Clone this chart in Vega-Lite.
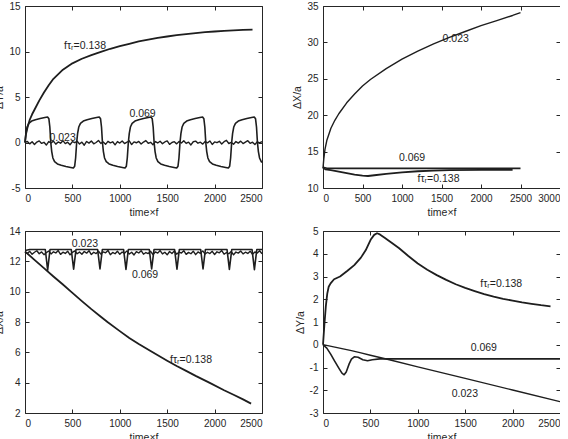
{
  "$schema": "https://vega.github.io/schema/vega-lite/v6.json",
  "background": "white",
  "padding": {"left": -6, "top": 0, "right": -2, "bottom": -2},
  "columns": 2,
  "spacing": {"row": 43, "column": 61},
  "bounds": "flush",
  "datasets": {
    "tl": [
      {"s": "0.138", "t": 0, "v": 0}, {"s": "0.138", "t": 10, "v": 0.9}, {"s": "0.138", "t": 25, "v": 1.6}, {"s": "0.138", "t": 50, "v": 2.5}, {"s": "0.138", "t": 75, "v": 3.1}, {"s": "0.138", "t": 100, "v": 3.6}, {"s": "0.138", "t": 150, "v": 4.6}, {"s": "0.138", "t": 200, "v": 5.5}, {"s": "0.138", "t": 250, "v": 6.3}, {"s": "0.138", "t": 300, "v": 7.0}, {"s": "0.138", "t": 400, "v": 8.0}, {"s": "0.138", "t": 500, "v": 8.7}, {"s": "0.138", "t": 600, "v": 9.2}, {"s": "0.138", "t": 700, "v": 9.6}, {"s": "0.138", "t": 800, "v": 9.95}, {"s": "0.138", "t": 900, "v": 10.3}, {"s": "0.138", "t": 1000, "v": 10.6}, {"s": "0.138", "t": 1100, "v": 10.85}, {"s": "0.138", "t": 1200, "v": 11.1}, {"s": "0.138", "t": 1300, "v": 11.3}, {"s": "0.138", "t": 1400, "v": 11.5}, {"s": "0.138", "t": 1500, "v": 11.65}, {"s": "0.138", "t": 1600, "v": 11.8}, {"s": "0.138", "t": 1700, "v": 11.92}, {"s": "0.138", "t": 1800, "v": 12.03}, {"s": "0.138", "t": 1900, "v": 12.12}, {"s": "0.138", "t": 2000, "v": 12.2}, {"s": "0.138", "t": 2100, "v": 12.27}, {"s": "0.138", "t": 2200, "v": 12.32}, {"s": "0.138", "t": 2300, "v": 12.37}, {"s": "0.138", "t": 2400, "v": 12.4},

      {"s": "0.069", "t": 0, "v": 0}, {"s": "0.069", "t": 10, "v": 1.0}, {"s": "0.069", "t": 22, "v": 1.7}, {"s": "0.069", "t": 40, "v": 2.1}, {"s": "0.069", "t": 70, "v": 2.35}, {"s": "0.069", "t": 110, "v": 2.5}, {"s": "0.069", "t": 160, "v": 2.63}, {"s": "0.069", "t": 210, "v": 2.74}, {"s": "0.069", "t": 238, "v": 2.8}, {"s": "0.069", "t": 252, "v": 2.6}, {"s": "0.069", "t": 262, "v": 1.7}, {"s": "0.069", "t": 272, "v": 0}, {"s": "0.069", "t": 282, "v": -1.0}, {"s": "0.069", "t": 294, "v": -1.7}, {"s": "0.069", "t": 312, "v": -2.1}, {"s": "0.069", "t": 342, "v": -2.35}, {"s": "0.069", "t": 382, "v": -2.5}, {"s": "0.069", "t": 432, "v": -2.63}, {"s": "0.069", "t": 482, "v": -2.74}, {"s": "0.069", "t": 510, "v": -2.8}, {"s": "0.069", "t": 524, "v": -2.6}, {"s": "0.069", "t": 534, "v": -1.7}, {"s": "0.069", "t": 545, "v": 0},
      {"s": "0.069", "t": 555, "v": 1.0}, {"s": "0.069", "t": 567, "v": 1.7}, {"s": "0.069", "t": 585, "v": 2.1}, {"s": "0.069", "t": 615, "v": 2.35}, {"s": "0.069", "t": 655, "v": 2.5}, {"s": "0.069", "t": 705, "v": 2.63}, {"s": "0.069", "t": 755, "v": 2.74}, {"s": "0.069", "t": 783, "v": 2.8}, {"s": "0.069", "t": 797, "v": 2.6}, {"s": "0.069", "t": 807, "v": 1.7}, {"s": "0.069", "t": 817, "v": 0}, {"s": "0.069", "t": 827, "v": -1.0}, {"s": "0.069", "t": 839, "v": -1.7}, {"s": "0.069", "t": 857, "v": -2.1}, {"s": "0.069", "t": 887, "v": -2.35}, {"s": "0.069", "t": 927, "v": -2.5}, {"s": "0.069", "t": 977, "v": -2.63}, {"s": "0.069", "t": 1027, "v": -2.74}, {"s": "0.069", "t": 1055, "v": -2.8}, {"s": "0.069", "t": 1069, "v": -2.6}, {"s": "0.069", "t": 1079, "v": -1.7}, {"s": "0.069", "t": 1090, "v": 0},
      {"s": "0.069", "t": 1100, "v": 1.0}, {"s": "0.069", "t": 1112, "v": 1.7}, {"s": "0.069", "t": 1130, "v": 2.1}, {"s": "0.069", "t": 1160, "v": 2.35}, {"s": "0.069", "t": 1200, "v": 2.5}, {"s": "0.069", "t": 1250, "v": 2.63}, {"s": "0.069", "t": 1300, "v": 2.74}, {"s": "0.069", "t": 1328, "v": 2.8}, {"s": "0.069", "t": 1342, "v": 2.6}, {"s": "0.069", "t": 1352, "v": 1.7}, {"s": "0.069", "t": 1362, "v": 0}, {"s": "0.069", "t": 1372, "v": -1.0}, {"s": "0.069", "t": 1384, "v": -1.7}, {"s": "0.069", "t": 1402, "v": -2.1}, {"s": "0.069", "t": 1432, "v": -2.35}, {"s": "0.069", "t": 1472, "v": -2.5}, {"s": "0.069", "t": 1522, "v": -2.63}, {"s": "0.069", "t": 1572, "v": -2.74}, {"s": "0.069", "t": 1600, "v": -2.8}, {"s": "0.069", "t": 1614, "v": -2.6}, {"s": "0.069", "t": 1624, "v": -1.7}, {"s": "0.069", "t": 1635, "v": 0},
      {"s": "0.069", "t": 1645, "v": 1.0}, {"s": "0.069", "t": 1657, "v": 1.7}, {"s": "0.069", "t": 1675, "v": 2.1}, {"s": "0.069", "t": 1705, "v": 2.35}, {"s": "0.069", "t": 1745, "v": 2.5}, {"s": "0.069", "t": 1795, "v": 2.63}, {"s": "0.069", "t": 1845, "v": 2.74}, {"s": "0.069", "t": 1873, "v": 2.8}, {"s": "0.069", "t": 1887, "v": 2.6}, {"s": "0.069", "t": 1897, "v": 1.7}, {"s": "0.069", "t": 1907, "v": 0}, {"s": "0.069", "t": 1917, "v": -1.0}, {"s": "0.069", "t": 1929, "v": -1.7}, {"s": "0.069", "t": 1947, "v": -2.1}, {"s": "0.069", "t": 1977, "v": -2.35}, {"s": "0.069", "t": 2017, "v": -2.5}, {"s": "0.069", "t": 2067, "v": -2.63}, {"s": "0.069", "t": 2117, "v": -2.74}, {"s": "0.069", "t": 2145, "v": -2.8}, {"s": "0.069", "t": 2159, "v": -2.6}, {"s": "0.069", "t": 2169, "v": -1.7}, {"s": "0.069", "t": 2180, "v": 0},
      {"s": "0.069", "t": 2190, "v": 1.0}, {"s": "0.069", "t": 2202, "v": 1.7}, {"s": "0.069", "t": 2220, "v": 2.1}, {"s": "0.069", "t": 2250, "v": 2.35}, {"s": "0.069", "t": 2290, "v": 2.5}, {"s": "0.069", "t": 2340, "v": 2.63}, {"s": "0.069", "t": 2390, "v": 2.74}, {"s": "0.069", "t": 2418, "v": 2.8}, {"s": "0.069", "t": 2432, "v": 2.6}, {"s": "0.069", "t": 2442, "v": 1.7}, {"s": "0.069", "t": 2452, "v": 0}, {"s": "0.069", "t": 2462, "v": -1.0}, {"s": "0.069", "t": 2474, "v": -1.7}, {"s": "0.069", "t": 2492, "v": -2.1}, {"s": "0.069", "t": 2500, "v": -2.18},

      {"s": "0.023", "t": 0, "v": 0.0}, {"s": "0.023", "t": 25, "v": 0.12}, {"s": "0.023", "t": 50, "v": -0.15}, {"s": "0.023", "t": 75, "v": 0.08}, {"s": "0.023", "t": 100, "v": -0.22}, {"s": "0.023", "t": 125, "v": 0.05}, {"s": "0.023", "t": 150, "v": 0.18}, {"s": "0.023", "t": 175, "v": -0.1}, {"s": "0.023", "t": 200, "v": 0.02}, {"s": "0.023", "t": 225, "v": -0.28}, {"s": "0.023", "t": 250, "v": 0.1}, {"s": "0.023", "t": 275, "v": -0.05}, {"s": "0.023", "t": 300, "v": 0.15}, {"s": "0.023", "t": 325, "v": -0.18}, {"s": "0.023", "t": 350, "v": 0.06}, {"s": "0.023", "t": 375, "v": -0.08}, {"s": "0.023", "t": 400, "v": 0.2}, {"s": "0.023", "t": 425, "v": -0.12}, {"s": "0.023", "t": 450, "v": 0.03}, {"s": "0.023", "t": 475, "v": -0.25}, {"s": "0.023", "t": 500, "v": 0.09}, {"s": "0.023", "t": 525, "v": -0.02}, {"s": "0.023", "t": 550, "v": 0.14}, {"s": "0.023", "t": 575, "v": -0.16}, {"s": "0.023", "t": 600, "v": 0.04}, {"s": "0.023", "t": 625, "v": -0.3}, {"s": "0.023", "t": 650, "v": 0.11}, {"s": "0.023", "t": 675, "v": -0.07}, {"s": "0.023", "t": 700, "v": 0.17}, {"s": "0.023", "t": 725, "v": -0.14}, {"s": "0.023", "t": 750, "v": 0.0}, {"s": "0.023", "t": 775, "v": 0.22}, {"s": "0.023", "t": 800, "v": -0.1}, {"s": "0.023", "t": 825, "v": 0.06}, {"s": "0.023", "t": 850, "v": -0.2}, {"s": "0.023", "t": 875, "v": 0.13}, {"s": "0.023", "t": 900, "v": -0.04}, {"s": "0.023", "t": 925, "v": 0.08}, {"s": "0.023", "t": 950, "v": -0.26}, {"s": "0.023", "t": 975, "v": 0.1}, {"s": "0.023", "t": 1000, "v": -0.06}, {"s": "0.023", "t": 1025, "v": 0.16}, {"s": "0.023", "t": 1050, "v": -0.12}, {"s": "0.023", "t": 1075, "v": 0.03}, {"s": "0.023", "t": 1100, "v": 0.19}, {"s": "0.023", "t": 1125, "v": -0.22}, {"s": "0.023", "t": 1150, "v": 0.07}, {"s": "0.023", "t": 1175, "v": -0.03}, {"s": "0.023", "t": 1200, "v": 0.12}, {"s": "0.023", "t": 1225, "v": -0.17}, {"s": "0.023", "t": 1250, "v": 0.05}, {"s": "0.023", "t": 1275, "v": 0.21}, {"s": "0.023", "t": 1300, "v": -0.09}, {"s": "0.023", "t": 1325, "v": 0.02}, {"s": "0.023", "t": 1350, "v": -0.24}, {"s": "0.023", "t": 1375, "v": 0.1}, {"s": "0.023", "t": 1400, "v": -0.05}, {"s": "0.023", "t": 1425, "v": 0.14}, {"s": "0.023", "t": 1450, "v": -0.13}, {"s": "0.023", "t": 1475, "v": 0.06}, {"s": "0.023", "t": 1500, "v": 0.18}, {"s": "0.023", "t": 1525, "v": -0.2}, {"s": "0.023", "t": 1550, "v": 0.0}, {"s": "0.023", "t": 1575, "v": 0.09}, {"s": "0.023", "t": 1600, "v": -0.15}, {"s": "0.023", "t": 1625, "v": 0.12}, {"s": "0.023", "t": 1650, "v": -0.06}, {"s": "0.023", "t": 1675, "v": 0.2}, {"s": "0.023", "t": 1700, "v": -0.1}, {"s": "0.023", "t": 1725, "v": 0.04}, {"s": "0.023", "t": 1750, "v": -0.27}, {"s": "0.023", "t": 1775, "v": 0.08}, {"s": "0.023", "t": 1800, "v": 0.15}, {"s": "0.023", "t": 1825, "v": -0.08}, {"s": "0.023", "t": 1850, "v": 0.03}, {"s": "0.023", "t": 1875, "v": -0.18}, {"s": "0.023", "t": 1900, "v": 0.11}, {"s": "0.023", "t": 1925, "v": -0.04}, {"s": "0.023", "t": 1950, "v": 0.17}, {"s": "0.023", "t": 1975, "v": -0.21}, {"s": "0.023", "t": 2000, "v": 0.06}, {"s": "0.023", "t": 2025, "v": -0.02}, {"s": "0.023", "t": 2050, "v": 0.13}, {"s": "0.023", "t": 2075, "v": -0.16}, {"s": "0.023", "t": 2100, "v": 0.09}, {"s": "0.023", "t": 2125, "v": 0.24}, {"s": "0.023", "t": 2150, "v": -0.11}, {"s": "0.023", "t": 2175, "v": 0.01}, {"s": "0.023", "t": 2200, "v": -0.19}, {"s": "0.023", "t": 2225, "v": 0.1}, {"s": "0.023", "t": 2250, "v": -0.07}, {"s": "0.023", "t": 2275, "v": 0.15}, {"s": "0.023", "t": 2300, "v": -0.12}, {"s": "0.023", "t": 2325, "v": 0.05}, {"s": "0.023", "t": 2350, "v": 0.2}, {"s": "0.023", "t": 2375, "v": -0.09}, {"s": "0.023", "t": 2400, "v": 0.03}, {"s": "0.023", "t": 2425, "v": -0.23}, {"s": "0.023", "t": 2450, "v": 0.08}, {"s": "0.023", "t": 2475, "v": -0.05}, {"s": "0.023", "t": 2500, "v": 0.1}
    ],
    "tl_lab": [
      {"t": 633, "v": 10.6, "text": "fτᵣ=0.138"},
      {"t": 1240, "v": 3.16, "text": "0.069"},
      {"t": 397, "v": 0.53, "text": "0.023"}
    ],
    "tr": [
      {"s": "0.023", "t": 0, "v": 12.7}, {"s": "0.023", "t": 10, "v": 14.0}, {"s": "0.023", "t": 25, "v": 15.3}, {"s": "0.023", "t": 50, "v": 16.6}, {"s": "0.023", "t": 100, "v": 18.2}, {"s": "0.023", "t": 150, "v": 19.3}, {"s": "0.023", "t": 200, "v": 20.2}, {"s": "0.023", "t": 300, "v": 21.7}, {"s": "0.023", "t": 400, "v": 22.9}, {"s": "0.023", "t": 500, "v": 24.0}, {"s": "0.023", "t": 600, "v": 24.9}, {"s": "0.023", "t": 800, "v": 26.4}, {"s": "0.023", "t": 1000, "v": 27.7}, {"s": "0.023", "t": 1200, "v": 28.8}, {"s": "0.023", "t": 1400, "v": 29.8}, {"s": "0.023", "t": 1600, "v": 30.7}, {"s": "0.023", "t": 1800, "v": 31.5}, {"s": "0.023", "t": 2000, "v": 32.3}, {"s": "0.023", "t": 2200, "v": 33.0}, {"s": "0.023", "t": 2400, "v": 33.7}, {"s": "0.023", "t": 2500, "v": 34.1},
      {"s": "0.069", "t": 0, "v": 12.85}, {"s": "0.069", "t": 50, "v": 12.72}, {"s": "0.069", "t": 200, "v": 12.7}, {"s": "0.069", "t": 1000, "v": 12.7}, {"s": "0.069", "t": 2500, "v": 12.7},
      {"s": "0.138", "t": 0, "v": 12.85}, {"s": "0.138", "t": 30, "v": 12.55}, {"s": "0.138", "t": 100, "v": 12.45}, {"s": "0.138", "t": 200, "v": 12.25}, {"s": "0.138", "t": 300, "v": 12.05}, {"s": "0.138", "t": 400, "v": 11.85}, {"s": "0.138", "t": 500, "v": 11.7}, {"s": "0.138", "t": 570, "v": 11.65}, {"s": "0.138", "t": 650, "v": 11.75}, {"s": "0.138", "t": 800, "v": 11.95}, {"s": "0.138", "t": 1000, "v": 12.15}, {"s": "0.138", "t": 1200, "v": 12.3}, {"s": "0.138", "t": 1400, "v": 12.4}, {"s": "0.138", "t": 1600, "v": 12.45}, {"s": "0.138", "t": 2000, "v": 12.5}, {"s": "0.138", "t": 2400, "v": 12.5}
    ],
    "tr_lab": [
      {"t": 1680, "v": 30.4, "text": "0.023"},
      {"t": 1127, "v": 14.07, "text": "0.069"},
      {"t": 1462, "v": 11.2, "text": "fτᵣ=0.138"}
    ],
    "bl": [
      {"s": "0.138", "t": 0, "v": 12.65}, {"s": "0.138", "t": 100, "v": 12.1}, {"s": "0.138", "t": 200, "v": 11.55}, {"s": "0.138", "t": 300, "v": 11.0}, {"s": "0.138", "t": 400, "v": 10.47}, {"s": "0.138", "t": 485, "v": 10.0}, {"s": "0.138", "t": 600, "v": 9.38}, {"s": "0.138", "t": 700, "v": 8.85}, {"s": "0.138", "t": 800, "v": 8.35}, {"s": "0.138", "t": 870, "v": 8.0}, {"s": "0.138", "t": 1000, "v": 7.4}, {"s": "0.138", "t": 1100, "v": 6.95}, {"s": "0.138", "t": 1200, "v": 6.55}, {"s": "0.138", "t": 1347, "v": 6.0}, {"s": "0.138", "t": 1500, "v": 5.45}, {"s": "0.138", "t": 1600, "v": 5.1}, {"s": "0.138", "t": 1700, "v": 4.78}, {"s": "0.138", "t": 1800, "v": 4.45}, {"s": "0.138", "t": 1944, "v": 4.0}, {"s": "0.138", "t": 2100, "v": 3.5}, {"s": "0.138", "t": 2200, "v": 3.2}, {"s": "0.138", "t": 2300, "v": 2.9}, {"s": "0.138", "t": 2385, "v": 2.62},

      {"s": "0.069", "t": 0, "v": 12.72}, {"s": "0.069", "t": 50, "v": 12.78}, {"s": "0.069", "t": 214, "v": 12.78}, {"s": "0.069", "t": 239, "v": 11.42}, {"s": "0.069", "t": 264, "v": 12.78}, {"s": "0.069", "t": 488, "v": 12.78}, {"s": "0.069", "t": 513, "v": 11.48}, {"s": "0.069", "t": 538, "v": 12.78}, {"s": "0.069", "t": 766, "v": 12.78}, {"s": "0.069", "t": 791, "v": 11.5}, {"s": "0.069", "t": 816, "v": 12.78}, {"s": "0.069", "t": 1040, "v": 12.78}, {"s": "0.069", "t": 1065, "v": 11.47}, {"s": "0.069", "t": 1090, "v": 12.78}, {"s": "0.069", "t": 1311, "v": 12.78}, {"s": "0.069", "t": 1336, "v": 11.5}, {"s": "0.069", "t": 1361, "v": 12.78}, {"s": "0.069", "t": 1578, "v": 12.78}, {"s": "0.069", "t": 1603, "v": 11.48}, {"s": "0.069", "t": 1628, "v": 12.78}, {"s": "0.069", "t": 1853, "v": 12.78}, {"s": "0.069", "t": 1878, "v": 11.5}, {"s": "0.069", "t": 1903, "v": 12.78}, {"s": "0.069", "t": 2131, "v": 12.78}, {"s": "0.069", "t": 2156, "v": 11.47}, {"s": "0.069", "t": 2181, "v": 12.78}, {"s": "0.069", "t": 2395, "v": 12.78}, {"s": "0.069", "t": 2420, "v": 11.45}, {"s": "0.069", "t": 2445, "v": 12.78}, {"s": "0.069", "t": 2500, "v": 12.78},

      {"s": "0.023", "t": 0, "v": 12.6}, {"s": "0.023", "t": 25, "v": 12.52}, {"s": "0.023", "t": 50, "v": 12.66}, {"s": "0.023", "t": 75, "v": 12.47}, {"s": "0.023", "t": 100, "v": 12.6}, {"s": "0.023", "t": 125, "v": 12.7}, {"s": "0.023", "t": 150, "v": 12.5}, {"s": "0.023", "t": 175, "v": 12.62}, {"s": "0.023", "t": 200, "v": 12.44}, {"s": "0.023", "t": 225, "v": 12.58}, {"s": "0.023", "t": 250, "v": 12.68}, {"s": "0.023", "t": 275, "v": 12.49}, {"s": "0.023", "t": 300, "v": 12.63}, {"s": "0.023", "t": 325, "v": 12.55}, {"s": "0.023", "t": 350, "v": 12.71}, {"s": "0.023", "t": 375, "v": 12.46}, {"s": "0.023", "t": 400, "v": 12.6}, {"s": "0.023", "t": 425, "v": 12.52}, {"s": "0.023", "t": 450, "v": 12.67}, {"s": "0.023", "t": 475, "v": 12.43}, {"s": "0.023", "t": 500, "v": 12.59}, {"s": "0.023", "t": 525, "v": 12.69}, {"s": "0.023", "t": 550, "v": 12.5}, {"s": "0.023", "t": 575, "v": 12.61}, {"s": "0.023", "t": 600, "v": 12.47}, {"s": "0.023", "t": 625, "v": 12.65}, {"s": "0.023", "t": 650, "v": 12.54}, {"s": "0.023", "t": 675, "v": 12.7}, {"s": "0.023", "t": 700, "v": 12.45}, {"s": "0.023", "t": 725, "v": 12.6}, {"s": "0.023", "t": 750, "v": 12.51}, {"s": "0.023", "t": 775, "v": 12.66}, {"s": "0.023", "t": 800, "v": 12.48}, {"s": "0.023", "t": 825, "v": 12.62}, {"s": "0.023", "t": 850, "v": 12.56}, {"s": "0.023", "t": 875, "v": 12.72}, {"s": "0.023", "t": 900, "v": 12.44}, {"s": "0.023", "t": 925, "v": 12.59}, {"s": "0.023", "t": 950, "v": 12.5}, {"s": "0.023", "t": 975, "v": 12.67}, {"s": "0.023", "t": 1000, "v": 12.46}, {"s": "0.023", "t": 1025, "v": 12.61}, {"s": "0.023", "t": 1050, "v": 12.53}, {"s": "0.023", "t": 1075, "v": 12.69}, {"s": "0.023", "t": 1100, "v": 12.48}, {"s": "0.023", "t": 1125, "v": 12.6}, {"s": "0.023", "t": 1150, "v": 12.42}, {"s": "0.023", "t": 1175, "v": 12.64}, {"s": "0.023", "t": 1200, "v": 12.55}, {"s": "0.023", "t": 1225, "v": 12.7}, {"s": "0.023", "t": 1250, "v": 12.47}, {"s": "0.023", "t": 1275, "v": 12.58}, {"s": "0.023", "t": 1300, "v": 12.51}, {"s": "0.023", "t": 1325, "v": 12.66}, {"s": "0.023", "t": 1350, "v": 12.45}, {"s": "0.023", "t": 1375, "v": 12.62}, {"s": "0.023", "t": 1400, "v": 12.54}, {"s": "0.023", "t": 1425, "v": 12.71}, {"s": "0.023", "t": 1450, "v": 12.49}, {"s": "0.023", "t": 1475, "v": 12.6}, {"s": "0.023", "t": 1500, "v": 12.43}, {"s": "0.023", "t": 1525, "v": 12.65}, {"s": "0.023", "t": 1550, "v": 12.52}, {"s": "0.023", "t": 1575, "v": 12.68}, {"s": "0.023", "t": 1600, "v": 12.47}, {"s": "0.023", "t": 1625, "v": 12.61}, {"s": "0.023", "t": 1650, "v": 12.55}, {"s": "0.023", "t": 1675, "v": 12.7}, {"s": "0.023", "t": 1700, "v": 12.46}, {"s": "0.023", "t": 1725, "v": 12.59}, {"s": "0.023", "t": 1750, "v": 12.5}, {"s": "0.023", "t": 1775, "v": 12.67}, {"s": "0.023", "t": 1800, "v": 12.44}, {"s": "0.023", "t": 1825, "v": 12.62}, {"s": "0.023", "t": 1850, "v": 12.53}, {"s": "0.023", "t": 1875, "v": 12.69}, {"s": "0.023", "t": 1900, "v": 12.48}, {"s": "0.023", "t": 1925, "v": 12.6}, {"s": "0.023", "t": 1950, "v": 12.51}, {"s": "0.023", "t": 1975, "v": 12.66}, {"s": "0.023", "t": 2000, "v": 12.45}, {"s": "0.023", "t": 2025, "v": 12.63}, {"s": "0.023", "t": 2050, "v": 12.56}, {"s": "0.023", "t": 2075, "v": 12.71}, {"s": "0.023", "t": 2100, "v": 12.47}, {"s": "0.023", "t": 2125, "v": 12.58}, {"s": "0.023", "t": 2150, "v": 12.5}, {"s": "0.023", "t": 2175, "v": 12.65}, {"s": "0.023", "t": 2200, "v": 12.43}, {"s": "0.023", "t": 2225, "v": 12.61}, {"s": "0.023", "t": 2250, "v": 12.54}, {"s": "0.023", "t": 2275, "v": 12.68}, {"s": "0.023", "t": 2300, "v": 12.49}, {"s": "0.023", "t": 2325, "v": 12.6}, {"s": "0.023", "t": 2350, "v": 12.52}, {"s": "0.023", "t": 2375, "v": 12.67}, {"s": "0.023", "t": 2400, "v": 12.46}, {"s": "0.023", "t": 2425, "v": 12.62}, {"s": "0.023", "t": 2450, "v": 12.55}, {"s": "0.023", "t": 2475, "v": 12.7}, {"s": "0.023", "t": 2500, "v": 12.5}
    ],
    "bl_lab": [
      {"t": 633, "v": 13.16, "text": "0.023"},
      {"t": 1266, "v": 11.1, "text": "0.069"},
      {"t": 1751, "v": 5.48, "text": "fτᵣ=0.138"}
    ],
    "br": [
      {"s": "0.138", "t": 0, "v": 0}, {"s": "0.138", "t": 15, "v": 0.9}, {"s": "0.138", "t": 30, "v": 1.7}, {"s": "0.138", "t": 45, "v": 2.25}, {"s": "0.138", "t": 60, "v": 2.55}, {"s": "0.138", "t": 80, "v": 2.7}, {"s": "0.138", "t": 117, "v": 2.88}, {"s": "0.138", "t": 180, "v": 3.0}, {"s": "0.138", "t": 258, "v": 3.25}, {"s": "0.138", "t": 330, "v": 3.5}, {"s": "0.138", "t": 400, "v": 3.83}, {"s": "0.138", "t": 450, "v": 4.15}, {"s": "0.138", "t": 506, "v": 4.64}, {"s": "0.138", "t": 540, "v": 4.83}, {"s": "0.138", "t": 570, "v": 4.9}, {"s": "0.138", "t": 600, "v": 4.85}, {"s": "0.138", "t": 650, "v": 4.7}, {"s": "0.138", "t": 720, "v": 4.49}, {"s": "0.138", "t": 800, "v": 4.25}, {"s": "0.138", "t": 900, "v": 3.9}, {"s": "0.138", "t": 1000, "v": 3.57}, {"s": "0.138", "t": 1100, "v": 3.3}, {"s": "0.138", "t": 1200, "v": 3.06}, {"s": "0.138", "t": 1300, "v": 2.85}, {"s": "0.138", "t": 1400, "v": 2.66}, {"s": "0.138", "t": 1500, "v": 2.5}, {"s": "0.138", "t": 1600, "v": 2.36}, {"s": "0.138", "t": 1700, "v": 2.23}, {"s": "0.138", "t": 1800, "v": 2.12}, {"s": "0.138", "t": 1900, "v": 2.02}, {"s": "0.138", "t": 2000, "v": 1.94}, {"s": "0.138", "t": 2100, "v": 1.86}, {"s": "0.138", "t": 2200, "v": 1.8}, {"s": "0.138", "t": 2300, "v": 1.74}, {"s": "0.138", "t": 2400, "v": 1.69},
      {"s": "0.069", "t": 0, "v": 0}, {"s": "0.069", "t": 40, "v": -0.15}, {"s": "0.069", "t": 81, "v": -0.41}, {"s": "0.069", "t": 120, "v": -0.7}, {"s": "0.069", "t": 170, "v": -1.05}, {"s": "0.069", "t": 200, "v": -1.25}, {"s": "0.069", "t": 223, "v": -1.32}, {"s": "0.069", "t": 245, "v": -1.2}, {"s": "0.069", "t": 276, "v": -0.84}, {"s": "0.069", "t": 300, "v": -0.63}, {"s": "0.069", "t": 330, "v": -0.53}, {"s": "0.069", "t": 370, "v": -0.55}, {"s": "0.069", "t": 420, "v": -0.66}, {"s": "0.069", "t": 470, "v": -0.7}, {"s": "0.069", "t": 520, "v": -0.66}, {"s": "0.069", "t": 600, "v": -0.62}, {"s": "0.069", "t": 800, "v": -0.62}, {"s": "0.069", "t": 1200, "v": -0.62}, {"s": "0.069", "t": 1600, "v": -0.62}, {"s": "0.069", "t": 2000, "v": -0.62}, {"s": "0.069", "t": 2500, "v": -0.62},
      {"s": "0.023", "t": 0, "v": 0}, {"s": "0.023", "t": 50, "v": -0.04}, {"s": "0.023", "t": 100, "v": -0.08}, {"s": "0.023", "t": 200, "v": -0.17}, {"s": "0.023", "t": 300, "v": -0.26}, {"s": "0.023", "t": 400, "v": -0.36}, {"s": "0.023", "t": 500, "v": -0.46}, {"s": "0.023", "t": 700, "v": -0.66}, {"s": "0.023", "t": 1000, "v": -0.97}, {"s": "0.023", "t": 1500, "v": -1.48}, {"s": "0.023", "t": 2000, "v": -1.99}, {"s": "0.023", "t": 2500, "v": -2.5}
    ],
    "br_lab": [
      {"t": 1880, "v": 2.69, "text": "fτᵣ=0.138"},
      {"t": 1696, "v": -0.15, "text": "0.069"},
      {"t": 1497, "v": -2.15, "text": "0.023"}
    ]
  },
  "concat": [
    {
      "width": 237, "height": 182,
      "data": {"name": "tl"},
      "layer": [
        {
          "mark": {"type": "line", "color": "#1e1e1e", "strokeJoin": "round"},
          "encoding": {
            "x": {"field": "t", "type": "quantitative", "scale": {"domain": [0, 2500], "nice": false, "zero": false}, "axis": {"values": [0, 500, 1000, 1500, 2000, 2500], "title": "time×f", "orient": "bottom"}},
            "y": {"field": "v", "type": "quantitative", "scale": {"domain": [-5, 15], "nice": false, "zero": false}, "axis": {"values": [-5, 0, 5, 10, 15], "title": "ΔY/a", "orient": "left"}},
            "detail": {"field": "s", "type": "nominal"},
            "strokeWidth": {"field": "s", "type": "nominal", "scale": {"domain": ["0.023", "0.069", "0.138"], "range": [1.4, 1.8, 2]}, "legend": null}
          }
        },
        {
          "data": {"name": "tl_lab"},
          "mark": {"type": "text", "font": "Liberation Sans", "fontSize": 10.5, "color": "#1e1e1e"},
          "encoding": {
            "x": {"field": "t", "type": "quantitative", "axis": null},
            "y": {"field": "v", "type": "quantitative", "axis": null},
            "text": {"field": "text"}
          }
        },
        {
          "mark": {"type": "line", "strokeOpacity": 0},
          "encoding": {
            "x": {"field": "t", "type": "quantitative", "axis": {"orient": "top", "values": [0, 500, 1000, 1500, 2000, 2500], "labels": false, "title": null}},
            "y": {"field": "v", "type": "quantitative", "axis": {"orient": "right", "values": [-5, 0, 5, 10, 15], "labels": false, "title": null}},
            "detail": {"field": "s", "type": "nominal"}
          }
        }
      ],
      "resolve": {"axis": {"x": "independent", "y": "independent"}}
    },
    {
      "width": 237, "height": 182,
      "data": {"name": "tr"},
      "layer": [
        {
          "mark": {"type": "line", "color": "#1e1e1e", "strokeJoin": "round"},
          "encoding": {
            "x": {"field": "t", "type": "quantitative", "scale": {"domain": [0, 3000], "nice": false, "zero": false}, "axis": {"values": [0, 500, 1000, 1500, 2000, 2500, 3000], "title": "time×f", "orient": "bottom"}},
            "y": {"field": "v", "type": "quantitative", "scale": {"domain": [10, 35], "nice": false, "zero": false}, "axis": {"values": [10, 15, 20, 25, 30, 35], "title": "ΔX/a", "orient": "left"}},
            "detail": {"field": "s", "type": "nominal"},
            "strokeWidth": {"field": "s", "type": "nominal", "scale": {"domain": ["0.023", "0.069", "0.138"], "range": [1.3, 2.2, 1.6]}, "legend": null}
          }
        },
        {
          "data": {"name": "tr_lab"},
          "mark": {"type": "text", "font": "Liberation Sans", "fontSize": 10.5, "color": "#1e1e1e"},
          "encoding": {
            "x": {"field": "t", "type": "quantitative", "axis": null},
            "y": {"field": "v", "type": "quantitative", "axis": null},
            "text": {"field": "text"}
          }
        },
        {
          "mark": {"type": "line", "strokeOpacity": 0},
          "encoding": {
            "x": {"field": "t", "type": "quantitative", "axis": {"orient": "top", "values": [0, 500, 1000, 1500, 2000, 2500, 3000], "labels": false, "title": null}},
            "y": {"field": "v", "type": "quantitative", "axis": {"orient": "right", "values": [10, 15, 20, 25, 30, 35], "labels": false, "title": null}},
            "detail": {"field": "s", "type": "nominal"}
          }
        }
      ],
      "resolve": {"axis": {"x": "independent", "y": "independent"}}
    },
    {
      "width": 237, "height": 182,
      "data": {"name": "bl"},
      "layer": [
        {
          "mark": {"type": "line", "color": "#1e1e1e", "strokeJoin": "round"},
          "encoding": {
            "x": {"field": "t", "type": "quantitative", "scale": {"domain": [0, 2500], "nice": false, "zero": false}, "axis": {"values": [0, 500, 1000, 1500, 2000, 2500], "title": "time×f", "orient": "bottom"}},
            "y": {"field": "v", "type": "quantitative", "scale": {"domain": [2, 14], "nice": false, "zero": false}, "axis": {"values": [2, 4, 6, 8, 10, 12, 14], "title": "ΔX/a", "orient": "left"}},
            "detail": {"field": "s", "type": "nominal"},
            "strokeWidth": {"field": "s", "type": "nominal", "scale": {"domain": ["0.023", "0.069", "0.138"], "range": [1, 1.8, 2]}, "legend": null}
          }
        },
        {
          "data": {"name": "bl_lab"},
          "mark": {"type": "text", "font": "Liberation Sans", "fontSize": 10.5, "color": "#1e1e1e"},
          "encoding": {
            "x": {"field": "t", "type": "quantitative", "axis": null},
            "y": {"field": "v", "type": "quantitative", "axis": null},
            "text": {"field": "text"}
          }
        },
        {
          "mark": {"type": "line", "strokeOpacity": 0},
          "encoding": {
            "x": {"field": "t", "type": "quantitative", "axis": {"orient": "top", "values": [0, 500, 1000, 1500, 2000, 2500], "labels": false, "title": null}},
            "y": {"field": "v", "type": "quantitative", "axis": {"orient": "right", "values": [2, 4, 6, 8, 10, 12, 14], "labels": false, "title": null}},
            "detail": {"field": "s", "type": "nominal"}
          }
        }
      ],
      "resolve": {"axis": {"x": "independent", "y": "independent"}}
    },
    {
      "width": 237, "height": 182,
      "data": {"name": "br"},
      "layer": [
        {
          "mark": {"type": "line", "color": "#1e1e1e", "strokeJoin": "round"},
          "encoding": {
            "x": {"field": "t", "type": "quantitative", "scale": {"domain": [0, 2500], "nice": false, "zero": false}, "axis": {"values": [0, 500, 1000, 1500, 2000, 2500], "title": "time×f", "orient": "bottom"}},
            "y": {"field": "v", "type": "quantitative", "scale": {"domain": [-3, 5], "nice": false, "zero": false}, "axis": {"values": [-3, -2, -1, 0, 1, 2, 3, 4, 5], "title": "ΔY/a", "orient": "left"}},
            "detail": {"field": "s", "type": "nominal"},
            "strokeWidth": {"field": "s", "type": "nominal", "scale": {"domain": ["0.023", "0.069", "0.138"], "range": [1.3, 2, 2.2]}, "legend": null}
          }
        },
        {
          "data": {"name": "br_lab"},
          "mark": {"type": "text", "font": "Liberation Sans", "fontSize": 10.5, "color": "#1e1e1e"},
          "encoding": {
            "x": {"field": "t", "type": "quantitative", "axis": null},
            "y": {"field": "v", "type": "quantitative", "axis": null},
            "text": {"field": "text"}
          }
        },
        {
          "mark": {"type": "line", "strokeOpacity": 0},
          "encoding": {
            "x": {"field": "t", "type": "quantitative", "axis": {"orient": "top", "values": [0, 500, 1000, 1500, 2000, 2500], "labels": false, "title": null}},
            "y": {"field": "v", "type": "quantitative", "axis": {"orient": "right", "values": [-3, -2, -1, 0, 1, 2, 3, 4, 5], "labels": false, "title": null}},
            "detail": {"field": "s", "type": "nominal"}
          }
        }
      ],
      "resolve": {"axis": {"x": "independent", "y": "independent"}}
    }
  ],
  "config": {
    "view": {"stroke": "#262626", "strokeWidth": 1},
    "axis": {
      "domain": false,
      "grid": false,
      "tickColor": "#262626",
      "tickWidth": 1,
      "tickSize": -4,
      "labelPadding": 9,
      "labelFont": "Liberation Sans",
      "labelFontSize": 10,
      "labelColor": "#262626",
      "labelExpr": "'' + datum.value",
      "titleFont": "Liberation Sans",
      "titleFontSize": 10.5,
      "titleFontWeight": "normal",
      "titleColor": "#262626",
      "titlePadding": 4
    }
  }
}
